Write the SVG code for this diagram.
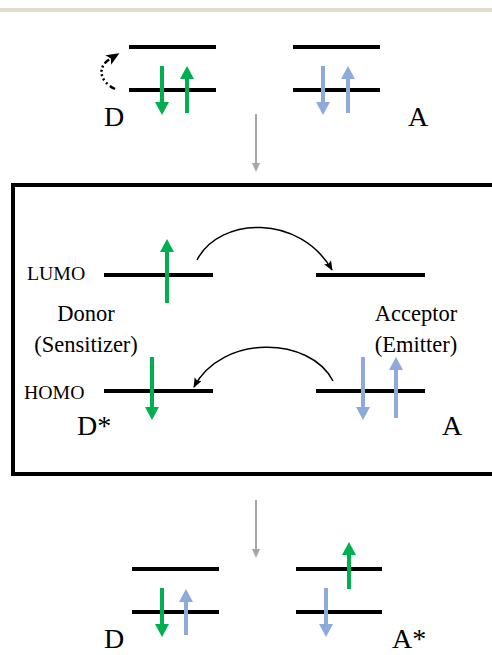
<svg xmlns="http://www.w3.org/2000/svg" width="492" height="655" viewBox="0 0 492 655">
<style>
text{font-family:"Liberation Serif","Times New Roman",serif;fill:#000}
.lvl{stroke:#000;stroke-width:4;fill:none}
.g{stroke:#00b050;stroke-width:4;fill:none;marker-end:url(#hg)}
.b{stroke:#8eaadb;stroke-width:4;fill:none;marker-end:url(#hb)}
.gray{stroke:#a6a6a6;stroke-width:2;fill:none;marker-end:url(#hgray)}
.curve{stroke:#000;stroke-width:1.5;fill:none;marker-end:url(#hk)}
.big{font-size:28px}
.mid{font-size:22.5px}
.sm{font-size:19.8px}
</style>
<defs>
<marker id="hg" markerUnits="userSpaceOnUse" markerWidth="14" markerHeight="14" refX="0" refY="7" orient="auto" viewBox="0 0 13 14"><path d="M0,0 L13,7 L0,14 z" fill="#00b050"/></marker>
<marker id="hb" markerUnits="userSpaceOnUse" markerWidth="14" markerHeight="14" refX="0" refY="7" orient="auto" viewBox="0 0 13 14"><path d="M0,0 L13,7 L0,14 z" fill="#8eaadb"/></marker>
<marker id="hgray" markerUnits="userSpaceOnUse" markerWidth="9" markerHeight="8" refX="0" refY="4" orient="auto" viewBox="0 0 9 8"><path d="M0,0 L9,4 L0,8 z" fill="#a6a6a6"/></marker>
<marker id="hk" markerUnits="userSpaceOnUse" markerWidth="10" markerHeight="8" refX="9" refY="4" orient="auto" viewBox="0 0 10 8"><path d="M0,0 L10,4 L0,8 L2,4 z" fill="#000"/></marker>
<marker id="hd" markerUnits="userSpaceOnUse" markerWidth="13" markerHeight="11" refX="2" refY="5.5" orient="auto" viewBox="0 0 13 11"><path d="M0,0 L13,5.5 L0,11 L3,5.5 z" fill="#000"/></marker>
</defs>
<rect x="0" y="0" width="492" height="655" fill="#fff"/>
<rect x="0" y="8" width="492" height="4" fill="#e2dccf"/>

<g id="top-donor">
<line class="lvl" x1="129" y1="47" x2="216" y2="47"/>
<line class="lvl" x1="129" y1="90" x2="216" y2="90"/>
<line class="g" x1="162" y1="66" x2="162" y2="102"/>
<line class="g" x1="187" y1="113" x2="187" y2="79"/>
<text class="big" x="104" y="126">D</text>
</g>
<g id="top-acceptor">
<line class="lvl" x1="293" y1="47" x2="380" y2="47"/>
<line class="lvl" x1="293" y1="90" x2="380" y2="90"/>
<line class="b" x1="323" y1="66" x2="323" y2="102"/>
<line class="b" x1="348" y1="113" x2="348" y2="79"/>
<text class="big" x="408" y="126">A</text>
</g>

<g id="box">
<rect x="13" y="185" width="500" height="289" fill="none" stroke="#000" stroke-width="4"/>
<text class="sm" x="27" y="280">LUMO</text>
<text class="sm" x="24" y="399">HOMO</text>
</g>
<g id="donor">
<line class="lvl" x1="104" y1="275" x2="213" y2="275"/>
<line class="lvl" x1="104" y1="391" x2="213" y2="391"/>
<line class="g" x1="167" y1="303" x2="167" y2="252"/>
<line class="g" x1="152" y1="357" x2="152" y2="407"/>
<text class="mid" x="86" y="321" text-anchor="middle">Donor</text>
<text class="mid" x="86" y="352" text-anchor="middle">(Sensitizer)</text>
<text class="big" x="77" y="435">D*</text>
</g>
<g id="acceptor">
<line class="lvl" x1="316" y1="275" x2="425" y2="275"/>
<line class="lvl" x1="316" y1="391" x2="425" y2="391"/>
<line class="b" x1="363" y1="357" x2="363" y2="407"/>
<line class="b" x1="396" y1="418" x2="396" y2="370"/>
<text class="mid" x="416" y="321" text-anchor="middle">Acceptor</text>
<text class="mid" x="416" y="352" text-anchor="middle">(Emitter)</text>
<text class="big" x="442" y="435">A</text>
</g>

<g id="bottom-donor">
<line class="lvl" x1="132" y1="569" x2="219" y2="569"/>
<line class="lvl" x1="132" y1="612" x2="219" y2="612"/>
<line class="g" x1="162" y1="588" x2="162" y2="624"/>
<line class="b" x1="186" y1="635" x2="186" y2="602"/>
<text class="big" x="104" y="648">D</text>
</g>
<g id="bottom-acceptor">
<line class="lvl" x1="296" y1="569" x2="382" y2="569"/>
<line class="lvl" x1="296" y1="612" x2="382" y2="612"/>
<line class="g" x1="349" y1="589" x2="349" y2="555"/>
<line class="b" x1="326" y1="588" x2="326" y2="624"/>
<text class="big" x="392" y="648">A*</text>
</g>

<g id="connectors">
<path d="M115 89 C99 81 97 67 110 59" fill="none" stroke="#000" stroke-width="2.5" stroke-dasharray="6 3 2 3 2 2.5 2 2.5 2 2.5 2 2.5" marker-end="url(#hd)"/>
<line class="gray" x1="256" y1="114" x2="256" y2="163"/>
<line class="gray" x1="256" y1="500" x2="256" y2="549"/>
<path class="curve" d="M197 260 C220 216 300 214 332 270"/>
<path class="curve" d="M333 381 C310 336 222 334 194 387"/>
</g>
</svg>
